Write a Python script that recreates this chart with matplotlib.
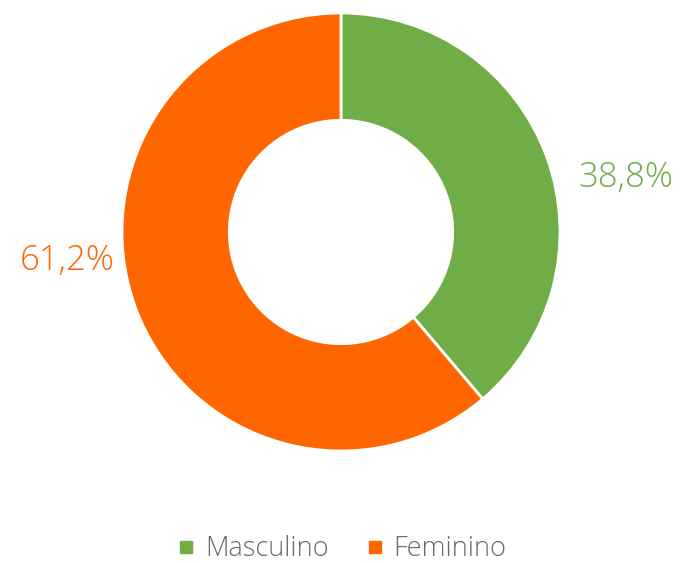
import numpy as np
import matplotlib.pyplot as plt

# Data
categories = ["Masculino", "Feminino"]
values = [38.8, 61.2]
labels = ["38,8%", "61,2%"]
colors = ["#70AD47", "#FF6600"]

plt.rcParams['font.family'] = ['Open Sans', 'DejaVu Sans']

fig = plt.figure(figsize=(6.82, 5.63), dpi=100)
W, H = 682, 563
cx, cy, R = 341, 232, 219
half = 240
ax = fig.add_axes([(cx - half) / W, (H - cy - half) / H, 2 * half / W, 2 * half / H])

wedges, _ = ax.pie(values, colors=colors, startangle=90, counterclock=False,
                   radius=1.0, wedgeprops=dict(width=0.49, edgecolor="white", linewidth=2))
lim = half / R
ax.set_xlim(-lim, lim)
ax.set_ylim(-lim, lim)
ax.set_aspect("equal")
ax.axis("off")

# percentage labels
label_pos = [(1.30, 0.25), (-1.25, -0.13)]
for (x, y), txt, c in zip(label_pos, labels, colors):
    ax.text(x, y, txt, color=c, fontsize=25, fontweight="light",
            ha="center", va="center", clip_on=False)

# legend
handles = [plt.Line2D([], [], marker="s", linestyle="none", markersize=9, color=c) for c in colors]
leg = fig.legend(handles, categories, loc="center", bbox_to_anchor=(0.5, 1 - 549 / H),
                 ncol=2, frameon=False, handletextpad=0.3, columnspacing=1.3,
                 handlelength=0.8, prop=dict(size=19.5, weight="light"))
for t in leg.get_texts():
    t.set_color("#6b6b6b")

fig.savefig("out.png", dpi=100)
